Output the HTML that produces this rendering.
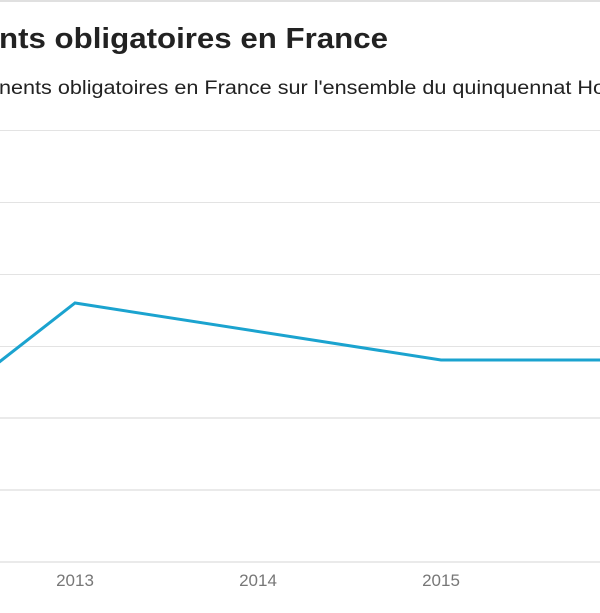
<!DOCTYPE html>
<html><head><meta charset="utf-8"><style>
html,body{margin:0;padding:0;background:#fff;width:600px;height:613px;overflow:hidden}
svg{display:block}
</style></head><body>
<svg width="600" height="613" xmlns="http://www.w3.org/2000/svg" font-family="Liberation Sans, sans-serif">
<rect width="600" height="613" fill="#fff"/>
<line x1="0" y1="1" x2="600" y2="1" stroke="#e0e0e0" stroke-width="2"/>
<text x="-1" y="48" font-size="29" font-weight="bold" fill="#222" textLength="389" lengthAdjust="spacingAndGlyphs">nts obligatoires en France</text>
<text x="-1" y="94" font-size="19" fill="#222" textLength="606" lengthAdjust="spacingAndGlyphs">nents obligatoires en France sur l'ensemble du quinquennat Ho</text>
<g stroke="#e3e3e3" stroke-width="1">
<line x1="0" y1="130.5" x2="600" y2="130.5"/>
<line x1="0" y1="202.5" x2="600" y2="202.5"/>
<line x1="0" y1="274.5" x2="600" y2="274.5"/>
<line x1="0" y1="346.5" x2="600" y2="346.5"/>
<line x1="0" y1="418" x2="600" y2="418" stroke-width="1.5"/>
<line x1="0" y1="490" x2="600" y2="490" stroke-width="1.5"/>
<line x1="0" y1="562" x2="600" y2="562" stroke-width="1.5"/>
</g>
<polyline points="-2,363 75,303 441,360 600,360" fill="none" stroke="#1ba3cf" stroke-width="3"/>
<g font-size="17" fill="#777" text-anchor="middle">
<text x="75" y="586">2013</text>
<text x="258" y="586">2014</text>
<text x="441" y="586">2015</text>
</g>
</svg>
</body></html>
